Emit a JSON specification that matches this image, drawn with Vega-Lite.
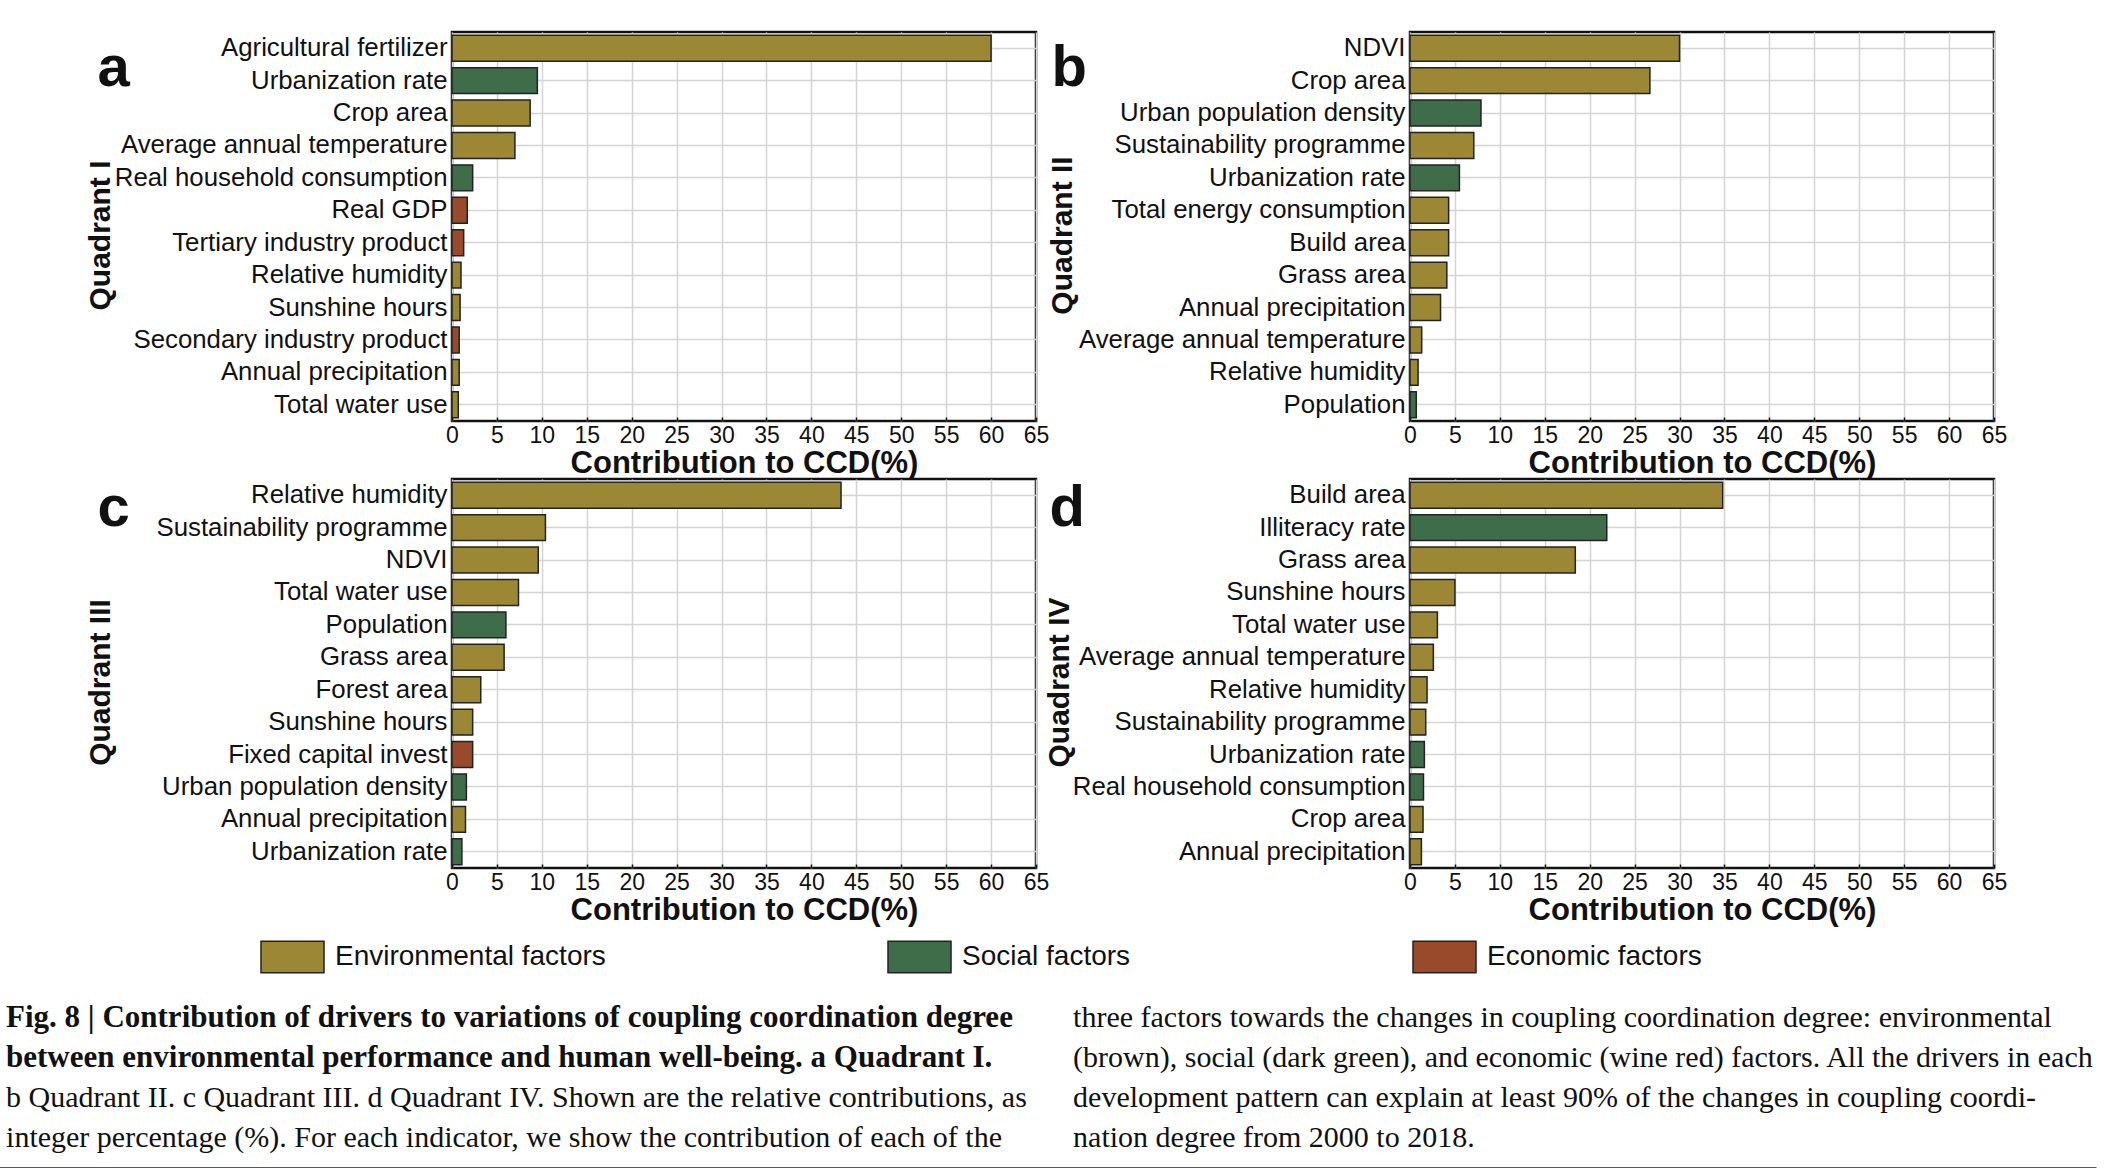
{
  "$schema": "https://vega.github.io/schema/vega-lite/v6.json",
  "padding": {"left": 6, "top": 30, "right": 0, "bottom": 0},
  "background": "white",
  "datasets": {
    "bars": [
      {"panel": "a", "factor": "Agricultural fertilizer", "group": "Environmental factors", "value": 60.0},
      {"panel": "a", "factor": "Urbanization rate", "group": "Social factors", "value": 9.5},
      {"panel": "a", "factor": "Crop area", "group": "Environmental factors", "value": 8.7},
      {"panel": "a", "factor": "Average annual temperature", "group": "Environmental factors", "value": 7.0},
      {"panel": "a", "factor": "Real household consumption", "group": "Social factors", "value": 2.3},
      {"panel": "a", "factor": "Real GDP", "group": "Economic factors", "value": 1.7},
      {"panel": "a", "factor": "Tertiary industry product", "group": "Economic factors", "value": 1.3},
      {"panel": "a", "factor": "Relative humidity", "group": "Environmental factors", "value": 1.0},
      {"panel": "a", "factor": "Sunshine hours", "group": "Environmental factors", "value": 0.9},
      {"panel": "a", "factor": "Secondary industry product", "group": "Economic factors", "value": 0.8},
      {"panel": "a", "factor": "Annual precipitation", "group": "Environmental factors", "value": 0.8},
      {"panel": "a", "factor": "Total water use", "group": "Environmental factors", "value": 0.7},
      {"panel": "b", "factor": "NDVI", "group": "Environmental factors", "value": 30.0},
      {"panel": "b", "factor": "Crop area", "group": "Environmental factors", "value": 26.7},
      {"panel": "b", "factor": "Urban population density", "group": "Social factors", "value": 7.9},
      {"panel": "b", "factor": "Sustainability programme", "group": "Environmental factors", "value": 7.1},
      {"panel": "b", "factor": "Urbanization rate", "group": "Social factors", "value": 5.5},
      {"panel": "b", "factor": "Total energy consumption", "group": "Environmental factors", "value": 4.3},
      {"panel": "b", "factor": "Build area", "group": "Environmental factors", "value": 4.3},
      {"panel": "b", "factor": "Grass area", "group": "Environmental factors", "value": 4.1},
      {"panel": "b", "factor": "Annual precipitation", "group": "Environmental factors", "value": 3.4},
      {"panel": "b", "factor": "Average annual temperature", "group": "Environmental factors", "value": 1.3},
      {"panel": "b", "factor": "Relative humidity", "group": "Environmental factors", "value": 0.9},
      {"panel": "b", "factor": "Population", "group": "Social factors", "value": 0.7},
      {"panel": "c", "factor": "Relative humidity", "group": "Environmental factors", "value": 43.3},
      {"panel": "c", "factor": "Sustainability programme", "group": "Environmental factors", "value": 10.4},
      {"panel": "c", "factor": "NDVI", "group": "Environmental factors", "value": 9.6},
      {"panel": "c", "factor": "Total water use", "group": "Environmental factors", "value": 7.4},
      {"panel": "c", "factor": "Population", "group": "Social factors", "value": 6.0},
      {"panel": "c", "factor": "Grass area", "group": "Environmental factors", "value": 5.8},
      {"panel": "c", "factor": "Forest area", "group": "Environmental factors", "value": 3.2},
      {"panel": "c", "factor": "Sunshine hours", "group": "Environmental factors", "value": 2.3},
      {"panel": "c", "factor": "Fixed capital invest", "group": "Economic factors", "value": 2.3},
      {"panel": "c", "factor": "Urban population density", "group": "Social factors", "value": 1.6},
      {"panel": "c", "factor": "Annual precipitation", "group": "Environmental factors", "value": 1.5},
      {"panel": "c", "factor": "Urbanization rate", "group": "Social factors", "value": 1.1},
      {"panel": "d", "factor": "Build area", "group": "Environmental factors", "value": 34.8},
      {"panel": "d", "factor": "Illiteracy rate", "group": "Social factors", "value": 21.9},
      {"panel": "d", "factor": "Grass area", "group": "Environmental factors", "value": 18.4},
      {"panel": "d", "factor": "Sunshine hours", "group": "Environmental factors", "value": 5.0},
      {"panel": "d", "factor": "Total water use", "group": "Environmental factors", "value": 3.05},
      {"panel": "d", "factor": "Average annual temperature", "group": "Environmental factors", "value": 2.6},
      {"panel": "d", "factor": "Relative humidity", "group": "Environmental factors", "value": 1.9},
      {"panel": "d", "factor": "Sustainability programme", "group": "Environmental factors", "value": 1.75},
      {"panel": "d", "factor": "Urbanization rate", "group": "Social factors", "value": 1.6},
      {"panel": "d", "factor": "Real household consumption", "group": "Social factors", "value": 1.5},
      {"panel": "d", "factor": "Crop area", "group": "Environmental factors", "value": 1.45},
      {"panel": "d", "factor": "Annual precipitation", "group": "Environmental factors", "value": 1.27}
    ],
    "caption": [
      {"col": 1, "line": 1, "part": "heading", "text": "Fig. 8 | Contribution of drivers to variations of coupling coordination degree"},
      {"col": 1, "line": 2, "part": "heading", "text": "between environmental performance and human well-being. a Quadrant I."},
      {"col": 1, "line": 3, "part": "body", "text": "b Quadrant II. c Quadrant III. d Quadrant IV. Shown are the relative contributions, as"},
      {"col": 1, "line": 4, "part": "body", "text": "integer percentage (%). For each indicator, we show the contribution of each of the"},
      {"col": 2, "line": 1, "part": "body", "text": "three factors towards the changes in coupling coordination degree: environmental"},
      {"col": 2, "line": 2, "part": "body", "text": "(brown), social (dark green), and economic (wine red) factors. All the drivers in each"},
      {"col": 2, "line": 3, "part": "body", "text": "development pattern can explain at least 90% of the changes in coupling coordi-"},
      {"col": 2, "line": 4, "part": "body", "text": "nation degree from 2000 to 2018."}
    ]
  },
  "columns": 2,
  "bounds": "flush",
  "spacing": {"row": 58, "column": 374},
  "resolve": {"scale": {"x": "independent", "y": "independent", "color": "shared"}},
  "concat": [
    {
      "width": 584, "height": 389,
      "data": {"name": "bars"},
      "transform": [{"filter": "datum.panel == 'a'"}],
      "resolve": {"axis": {"x": "independent"}},
      "layer": [
        {
          "mark": {"type": "bar", "stroke": "#222", "strokeWidth": 1.5},
          "encoding": {
            "y": {"field": "factor", "type": "nominal", "sort": null, "scale": {"paddingInner": 0.2, "paddingOuter": 0.1},
              "axis": {"title": "Quadrant I", "titleX": -352, "titleY": 203, "titleAngle": -90, "titleBaseline": "middle", "titleFontSize": 30, "bandPosition": 0.5, "grid": true, "tickSize": -4, "labelPadding": 9, "labelLimit": 600, "labelFontSize": 25.8}},
            "x": {"field": "value", "type": "quantitative", "scale": {"domain": [0, 65], "nice": false},
              "axis": {"title": "Contribution to CCD(%)", "values": [0, 5, 10, 15, 20, 25, 30, 35, 40, 45, 50, 55, 60, 65], "grid": true, "tickSize": -4, "labelPadding": 7, "labelFlush": false, "labelOverlap": false, "labelFontSize": 23, "titleFontSize": 31, "titlePadding": 1}},
            "color": {"field": "group", "type": "nominal",
              "scale": {"domain": ["Environmental factors", "Social factors", "Economic factors"], "range": ["#9C8834", "#3F6D4A", "#984A2B"]},
              "legend": {"orient": "none", "legendX": -192, "legendY": 892, "direction": "horizontal", "title": null, "symbolType": "M-1,-0.5H1V0.5H-1Z", "symbolSize": 3969, "symbolStrokeColor": "#222", "symbolStrokeWidth": 1.5, "symbolOpacity": 1, "labelFont": "Liberation Sans", "labelFontSize": 28, "labelColor": "#111", "labelOffset": 10, "columnPadding": 279, "labelLimit": 600}}
          }
        },
        {
          "transform": [{"filter": "false"}],
          "mark": {"type": "bar"},
          "encoding": {
            "x": {"field": "value", "type": "quantitative",
              "axis": {"orient": "top", "title": "a", "labels": false, "ticks": false, "grid": false, "domain": false, "titleX": -355, "titleY": 53, "titleAlign": "left", "titleAngle": 0, "titleBaseline": "alphabetic", "titleFontSize": 58}}
          }
        }
      ]
    },
    {
      "width": 584, "height": 389,
      "data": {"name": "bars"},
      "transform": [{"filter": "datum.panel == 'b'"}],
      "resolve": {"axis": {"x": "independent"}},
      "layer": [
        {
          "mark": {"type": "bar", "stroke": "#222", "strokeWidth": 1.5},
          "encoding": {
            "y": {"field": "factor", "type": "nominal", "sort": null, "scale": {"paddingInner": 0.2, "paddingOuter": 0.1},
              "axis": {"title": "Quadrant II", "titleX": -348, "titleY": 203, "titleAngle": -90, "titleBaseline": "middle", "titleFontSize": 30, "bandPosition": 0.5, "grid": true, "tickSize": -4, "labelPadding": 9, "labelLimit": 600, "labelFontSize": 25.8}},
            "x": {"field": "value", "type": "quantitative", "scale": {"domain": [0, 65], "nice": false},
              "axis": {"title": "Contribution to CCD(%)", "values": [0, 5, 10, 15, 20, 25, 30, 35, 40, 45, 50, 55, 60, 65], "grid": true, "tickSize": -4, "labelPadding": 7, "labelFlush": false, "labelOverlap": false, "labelFontSize": 23, "titleFontSize": 31, "titlePadding": 1}},
            "color": {"field": "group", "type": "nominal",
              "scale": {"domain": ["Environmental factors", "Social factors", "Economic factors"], "range": ["#9C8834", "#3F6D4A", "#984A2B"]},
              "legend": {"orient": "none", "legendX": -192, "legendY": 892, "direction": "horizontal", "title": null, "symbolType": "M-1,-0.5H1V0.5H-1Z", "symbolSize": 3969, "symbolStrokeColor": "#222", "symbolStrokeWidth": 1.5, "symbolOpacity": 1, "labelFont": "Liberation Sans", "labelFontSize": 28, "labelColor": "#111", "labelOffset": 10, "columnPadding": 279, "labelLimit": 600}}
          }
        },
        {
          "transform": [{"filter": "false"}],
          "mark": {"type": "bar"},
          "encoding": {
            "x": {"field": "value", "type": "quantitative",
              "axis": {"orient": "top", "title": "b", "labels": false, "ticks": false, "grid": false, "domain": false, "titleX": -359, "titleY": 53, "titleAlign": "left", "titleAngle": 0, "titleBaseline": "alphabetic", "titleFontSize": 58}}
          }
        }
      ]
    },
    {
      "width": 584, "height": 389,
      "data": {"name": "bars"},
      "transform": [{"filter": "datum.panel == 'c'"}],
      "resolve": {"axis": {"x": "independent"}},
      "layer": [
        {
          "mark": {"type": "bar", "stroke": "#222", "strokeWidth": 1.5},
          "encoding": {
            "y": {"field": "factor", "type": "nominal", "sort": null, "scale": {"paddingInner": 0.2, "paddingOuter": 0.1},
              "axis": {"title": "Quadrant III", "titleX": -352, "titleY": 203, "titleAngle": -90, "titleBaseline": "middle", "titleFontSize": 30, "bandPosition": 0.5, "grid": true, "tickSize": -4, "labelPadding": 9, "labelLimit": 600, "labelFontSize": 25.8}},
            "x": {"field": "value", "type": "quantitative", "scale": {"domain": [0, 65], "nice": false},
              "axis": {"title": "Contribution to CCD(%)", "values": [0, 5, 10, 15, 20, 25, 30, 35, 40, 45, 50, 55, 60, 65], "grid": true, "tickSize": -4, "labelPadding": 7, "labelFlush": false, "labelOverlap": false, "labelFontSize": 23, "titleFontSize": 31, "titlePadding": 1}},
            "color": {"field": "group", "type": "nominal",
              "scale": {"domain": ["Environmental factors", "Social factors", "Economic factors"], "range": ["#9C8834", "#3F6D4A", "#984A2B"]},
              "legend": {"orient": "none", "legendX": -192, "legendY": 892, "direction": "horizontal", "title": null, "symbolType": "M-1,-0.5H1V0.5H-1Z", "symbolSize": 3969, "symbolStrokeColor": "#222", "symbolStrokeWidth": 1.5, "symbolOpacity": 1, "labelFont": "Liberation Sans", "labelFontSize": 28, "labelColor": "#111", "labelOffset": 10, "columnPadding": 279, "labelLimit": 600}}
          }
        },
        {
          "transform": [{"filter": "false"}],
          "mark": {"type": "bar"},
          "encoding": {
            "x": {"field": "value", "type": "quantitative",
              "axis": {"orient": "top", "title": "c", "labels": false, "ticks": false, "grid": false, "domain": false, "titleX": -355, "titleY": 46, "titleAlign": "left", "titleAngle": 0, "titleBaseline": "alphabetic", "titleFontSize": 58}}
          }
        }
      ]
    },
    {
      "width": 584, "height": 389,
      "data": {"name": "bars"},
      "transform": [{"filter": "datum.panel == 'd'"}],
      "resolve": {"axis": {"x": "independent"}},
      "layer": [
        {
          "mark": {"type": "bar", "stroke": "#222", "strokeWidth": 1.5},
          "encoding": {
            "y": {"field": "factor", "type": "nominal", "sort": null, "scale": {"paddingInner": 0.2, "paddingOuter": 0.1},
              "axis": {"title": "Quadrant IV", "titleX": -351, "titleY": 203, "titleAngle": -90, "titleBaseline": "middle", "titleFontSize": 30, "bandPosition": 0.5, "grid": true, "tickSize": -4, "labelPadding": 9, "labelLimit": 600, "labelFontSize": 25.8}},
            "x": {"field": "value", "type": "quantitative", "scale": {"domain": [0, 65], "nice": false},
              "axis": {"title": "Contribution to CCD(%)", "values": [0, 5, 10, 15, 20, 25, 30, 35, 40, 45, 50, 55, 60, 65], "grid": true, "tickSize": -4, "labelPadding": 7, "labelFlush": false, "labelOverlap": false, "labelFontSize": 23, "titleFontSize": 31, "titlePadding": 1}},
            "color": {"field": "group", "type": "nominal",
              "scale": {"domain": ["Environmental factors", "Social factors", "Economic factors"], "range": ["#9C8834", "#3F6D4A", "#984A2B"]},
              "legend": {"orient": "none", "legendX": -192, "legendY": 892, "direction": "horizontal", "title": null, "symbolType": "M-1,-0.5H1V0.5H-1Z", "symbolSize": 3969, "symbolStrokeColor": "#222", "symbolStrokeWidth": 1.5, "symbolOpacity": 1, "labelFont": "Liberation Sans", "labelFontSize": 28, "labelColor": "#111", "labelOffset": 10, "columnPadding": 279, "labelLimit": 600}}
          }
        },
        {
          "transform": [{"filter": "false"}],
          "mark": {"type": "bar"},
          "encoding": {
            "x": {"field": "value", "type": "quantitative",
              "axis": {"orient": "top", "title": "d", "labels": false, "ticks": false, "grid": false, "domain": false, "titleX": -361, "titleY": 46, "titleAlign": "left", "titleAngle": 0, "titleBaseline": "alphabetic", "titleFontSize": 58}}
          }
        }
      ]
    },
    {
      "width": 584, "height": 242,
      "view": {"stroke": null},
      "data": {"name": "caption"},
      "encoding": {
        "x": {"field": "col", "type": "ordinal", "bandPosition": 0,
          "scale": {"type": "band", "range": [-453, 1644], "paddingInner": 0.048, "paddingOuter": 0.0066},
          "axis": {"title": null, "labels": false, "ticks": false, "grid": false, "domain": true, "domainColor": "#222", "domainWidth": 2.5}},
        "y": {"field": "line", "type": "ordinal", "scale": {"type": "point", "range": [92, 212], "padding": 0}, "axis": null},
        "text": {"field": "text"}
      },
      "layer": [
        {"transform": [{"filter": "datum.part == 'heading'"}],
         "mark": {"type": "text", "align": "left", "baseline": "middle", "font": "Liberation Serif", "fontSize": 31, "fontWeight": "bold", "color": "#111"}},
        {"transform": [{"filter": "datum.part == 'body'"}],
         "mark": {"type": "text", "align": "left", "baseline": "middle", "font": "Liberation Serif", "fontSize": 30, "fontWeight": "normal", "color": "#111"}}
      ]
    }
  ],
  "config": {
    "font": "Liberation Sans",
    "view": {"stroke": "#111", "strokeWidth": 2.5},
    "axis": {"labelFont": "Liberation Sans", "labelColor": "#111", "titleColor": "#111", "titleFont": "Liberation Sans", "titleFontWeight": "bold", "gridColor": "#d4d4d4", "gridWidth": 1.5, "domain": false, "tickColor": "#111", "tickWidth": 1.5}
  }
}
